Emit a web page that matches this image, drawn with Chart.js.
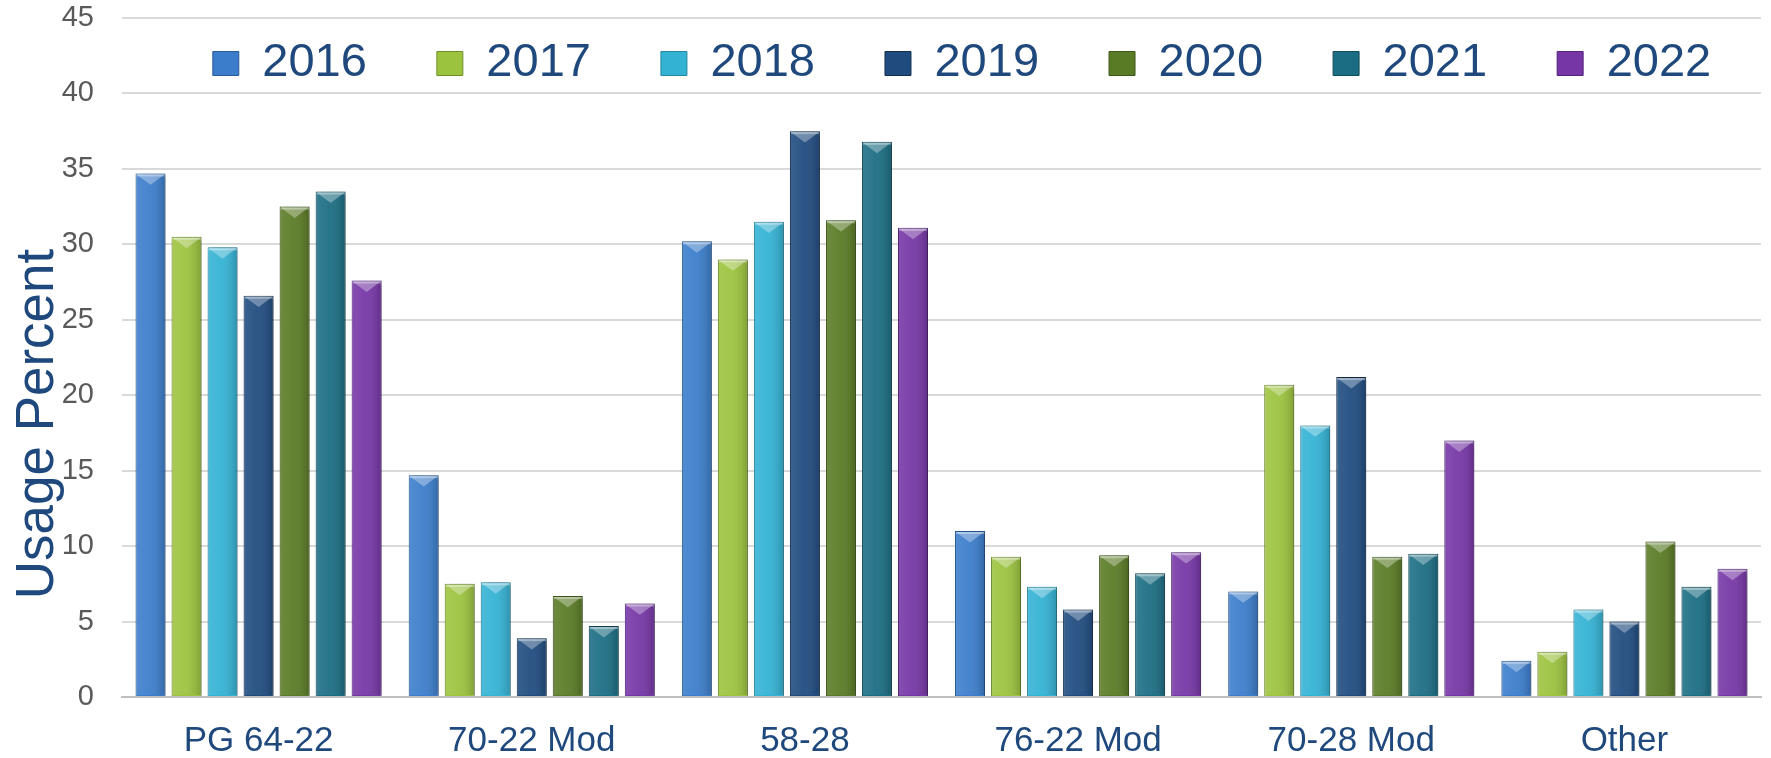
<!DOCTYPE html>
<html>
<head>
<meta charset="utf-8">
<title>Binder grade usage</title>
<script src="https://cdn.jsdelivr.net/npm/chart.js@4.4.1/dist/chart.umd.min.js"></script>
<style>
  html, body { margin: 0; padding: 0; background: #fff; }
  #wrap { position: relative; width: 1771px; height: 758px; }
</style>
</head>
<body>
<div id="wrap"><canvas id="chart-usage"></canvas></div>
<script>
// Data
const categories = ['PG 64-22', '70-22 Mod', '58-28', '76-22 Mod', '70-28 Mod', 'Other'];
const years = ['2016', '2017', '2018', '2019', '2020', '2021', '2022'];
const usage2016 = [34.7, 14.7, 30.2, 11.0, 7.0, 2.4];
const usage2017 = [30.5, 7.5, 29.0, 9.3, 20.7, 3.0];
const usage2018 = [29.8, 7.6, 31.5, 7.3, 18.0, 5.8];
const usage2019 = [26.6, 3.9, 37.5, 5.8, 21.2, 5.0];
const usage2020 = [32.5, 6.7, 31.6, 9.4, 9.3, 10.3];
const usage2021 = [33.5, 4.7, 36.8, 8.2, 9.5, 7.3];
const usage2022 = [27.6, 6.2, 31.1, 9.6, 17.0, 8.5];
const yTicks = [0, 5, 10, 15, 20, 25, 30, 35, 40, 45];
const yTitle = 'Usage Percent';

const seriesValues = [usage2016, usage2017, usage2018, usage2019, usage2020, usage2021, usage2022];

// Office-style palette
const fillColors = ['#3b7dcb', '#9cc33e', '#33b2d4', '#1f4b7f', '#5a7b25', '#1b6d83', '#7636a6'];
const edgeColors = ['#2a5c99', '#6f8d28', '#2386a1', '#13304f', '#3e5518', '#124b5a', '#52247a'];

const NAVY = '#1f497d';
Chart.defaults.font.family = '"Liberation Sans", Arial, sans-serif';

// Excel puts the legend inside the plot area, so keep it from eating layout space
const legendInside = {
    id: 'legendInside',
    beforeLayout(chart) {
        const lg = chart.legend;
        if (!lg || lg._inside) return;
        const fit = lg.fit;
        lg.fit = function() {
            this.maxWidth = 4000; // one row, no wrapping
            fit.call(this);
            this.height = 0;
        };
        lg._inside = true;
    },
    afterLayout(chart) {
        const lg = chart.legend;
        const area = chart.chartArea;
        // box is a bit wider than the plot so the last item doesn't wrap
        lg.left = area.left + 2;
        lg.right = area.right + 39;
        lg.width = lg.right - lg.left;
        lg.top = -30;
        lg.bottom = 110;
        lg.height = lg.bottom - lg.top;
    }
};

// Drop shadow + bevelled caps on the bars
const barBevel = {
    id: 'barBevel',
    beforeDatasetsDraw(chart) {
        const ctx = chart.ctx;
        ctx.save();
        ctx.shadowColor = 'rgba(0, 0, 0, 0.35)';
        ctx.shadowBlur = 6;
        ctx.shadowOffsetX = 3;
        ctx.shadowOffsetY = 1;
    },
    afterDatasetsDraw(chart) {
        const ctx = chart.ctx;
        ctx.restore();
        chart.data.datasets.forEach((ds, i) => {
            chart.getDatasetMeta(i).data.forEach(bar => {
                const { x, y, base, width } = bar.getProps(['x', 'y', 'base', 'width'], true);
                const l = x - width / 2;
                const r = x + width / 2;
                const h = base - y;
                if (h < 4) return;

                const shade = ctx.createLinearGradient(l, 0, r, 0);
                shade.addColorStop(0, 'rgba(255,255,255,0.12)');
                shade.addColorStop(0.45, 'rgba(255,255,255,0.06)');
                shade.addColorStop(1, 'rgba(0,0,0,0.18)');
                ctx.fillStyle = shade;
                ctx.fillRect(l + 1, y + 1, width - 2, h - 2);

                const cap = Math.min(width * 0.38, h / 2);
                ctx.beginPath();
                ctx.moveTo(l + 1, y + 1);
                ctx.lineTo(r - 1, y + 1);
                ctx.lineTo(x, y + cap);
                ctx.closePath();
                ctx.fillStyle = 'rgba(255,255,255,0.32)';
                ctx.fill();
                ctx.fillStyle = 'rgba(255,255,255,0.35)';
                ctx.fillRect(l + 1, y + 1, width - 2, 2);
            });
        });
    }
};

// Y axis title, placed like the original (not centred on the axis)
const axisTitle = {
    id: 'axisTitle',
    afterDraw(chart) {
        const ctx = chart.ctx;
        ctx.save();
        ctx.translate(53, 424);
        ctx.rotate(-Math.PI / 2);
        ctx.font = '53px "Liberation Sans", Arial, sans-serif';
        ctx.fillStyle = NAVY;
        ctx.textAlign = 'center';
        ctx.textBaseline = 'alphabetic';
        ctx.fillText(yTitle, 0, 0);
        ctx.restore();
    }
};

const datasets = years.map((yr, i) => ({
    label: yr,
    data: seriesValues[i],
    backgroundColor: fillColors[i],
    borderColor: edgeColors[i],
    borderWidth: 1,
    categoryPercentage: 0.923,
    barPercentage: 0.833
}));

new Chart(document.getElementById('chart-usage'), {
    type: 'bar',
    data: { labels: categories, datasets },
    options: {
        responsive: true,
        maintainAspectRatio: false,
        animation: false,
        layout: { padding: { left: 62, right: 10, top: 18, bottom: 0 } },
        plugins: {
            tooltip: { enabled: false },
            legend: {
                position: 'top',
                labels: {
                    color: NAVY,
                    font: { size: 47 },
                    boxWidth: 26,
                    boxHeight: 24,
                    padding: 70
                }
            }
        },
        scales: {
            x: {
                grid: { display: false, drawTicks: false },
                border: { color: '#bfbfbf', width: 2 },
                ticks: { color: NAVY, font: { size: 35 }, padding: 23 },
                afterFit: scale => {
                    scale.height = 61;
                    scale.paddingLeft = 0;
                    scale.paddingRight = 0;
                }
            },
            y: {
                min: 0,
                max: 45,
                afterBuildTicks: scale => { scale.ticks = yTicks.map(v => ({ value: v })); },
                grid: { color: '#d9d9d9', lineWidth: 2, drawTicks: false },
                border: { display: false },
                ticks: { color: '#595959', font: { size: 29 }, padding: 28 },
                afterFit: scale => {
                    scale.width = 60;
                    scale.paddingTop = 0;
                    scale.paddingBottom = 0;
                }
            }
        }
    },
    plugins: [legendInside, barBevel, axisTitle]
});
</script>
</body>
</html>
